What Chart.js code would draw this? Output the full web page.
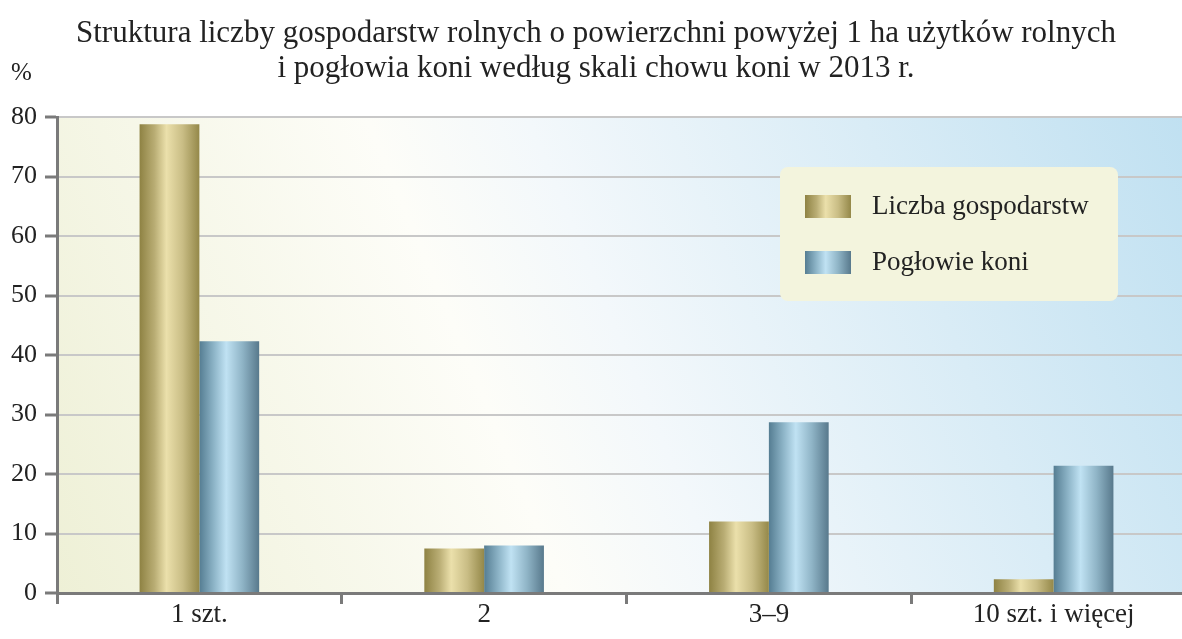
<!DOCTYPE html>
<html>
<head>
<meta charset="utf-8">
<script src="https://cdn.jsdelivr.net/npm/chart.js@4.4.0/dist/chart.umd.min.js"></script>
<style>
  html, body { margin: 0; padding: 0; background: #fff; overflow: hidden; }
  #wrap { position: relative; width: 1200px; height: 639px; }
</style>
</head>
<body>
<div id="wrap"><canvas id="chart" width="1200" height="639"></canvas></div>
<script>
// dane
const categories = ['1 szt.', '2', '3–9', '10 szt. i więcej'];
const gospodarstwa = [78.8, 7.5, 12.0, 2.3];
const poglowie = [42.3, 8.0, 28.7, 21.4];
const seriesNames = ['Liczba gospodarstw', 'Pogłowie koni'];
const titleLines = [
    'Struktura liczby gospodarstw rolnych o powierzchni powyżej 1 ha użytków rolnych',
    'i pogłowia koni według skali chowu koni w 2013 r.'
];
const yTicks = [0, 10, 20, 30, 40, 50, 60, 70, 80];

const FONT = '"Liberation Serif", "Times New Roman", serif';
const catPct = 0.42;

// kolory słupków (ciemny brzeg, jasny środek)
const palettes = [
    ['#8e8243', '#b9ad74', '#ebe0ab', '#c9bd85', '#948849'],
    ['#557d92', '#8fb6c9', '#c0e2f3', '#8fb4c6', '#58798c']
];

function barGradient(ctx, x0, w, pal) {
    const g = ctx.createLinearGradient(x0, 0, x0 + w, 0);
    g.addColorStop(0, pal[0]);
    g.addColorStop(0.25, pal[1]);
    g.addColorStop(0.45, pal[2]);
    g.addColorStop(0.72, pal[3]);
    g.addColorStop(1, pal[4]);
    return g;
}

function barColor(context) {
    const chart = context.chart;
    const xs = chart.scales.x;
    if (!xs || !chart.chartArea) return palettes[context.datasetIndex][2];
    const cw = xs.width / categories.length;
    const bw = cw * catPct / 2;
    const c = xs.getPixelForValue(context.dataIndex);
    const left = context.datasetIndex === 0 ? c - bw : c;
    return barGradient(chart.ctx, left, bw, palettes[context.datasetIndex]);
}

// tło obszaru wykresu
const bgPlugin = {
    id: 'bg',
    beforeDraw(chart) {
        const { ctx, chartArea: a } = chart;
        ctx.save();
        const g = ctx.createLinearGradient(a.left, a.bottom, a.right, a.top);
        g.addColorStop(0, '#eef0d6');
        g.addColorStop(0.38, '#fdfdf8');
        g.addColorStop(0.5, '#f3f8fb');
        g.addColorStop(1, '#bfe0f1');
        ctx.fillStyle = g;
        ctx.fillRect(a.left, a.top, a.right - a.left, a.bottom - a.top);
        ctx.restore();
    }
};

// tytuł, jednostka i legenda
const textPlugin = {
    id: 'texts',
    afterDraw(chart) {
        const ctx = chart.ctx;
        ctx.save();
        ctx.fillStyle = '#222';
        ctx.font = '31px ' + FONT;
        ctx.textAlign = 'center';
        ctx.textBaseline = 'alphabetic';
        ctx.fillText(titleLines[0], 596, 42);
        ctx.fillText(titleLines[1], 596, 77);
        ctx.textAlign = 'left';
        ctx.font = '25px ' + FONT;
        ctx.fillText('%', 11, 80);

        // legenda
        const lx = 780, ly = 167, lw = 338, lh = 134;
        ctx.fillStyle = '#f3f4dd';
        ctx.beginPath();
        ctx.roundRect(lx, ly, lw, lh, 8);
        ctx.fill();
        seriesNames.forEach((name, i) => {
            const sy = ly + 28 + i * 56;
            ctx.fillStyle = barGradient(ctx, lx + 25, 46, palettes[i]);
            ctx.fillRect(lx + 25, sy, 46, 23);
            ctx.fillStyle = '#222';
            ctx.font = '27px ' + FONT;
            ctx.textBaseline = 'middle';
            ctx.fillText(name, lx + 92, sy + 12);
        });
        ctx.restore();
    }
};

new Chart(document.getElementById('chart'), {
    type: 'bar',
    data: {
        labels: categories,
        datasets: [
            { label: seriesNames[0], data: gospodarstwa, backgroundColor: barColor,
              borderWidth: 0, categoryPercentage: catPct, barPercentage: 1 },
            { label: seriesNames[1], data: poglowie, backgroundColor: barColor,
              borderWidth: 0, categoryPercentage: catPct, barPercentage: 1 }
        ]
    },
    options: {
        responsive: false,
        animation: false,
        devicePixelRatio: 1,
        layout: { padding: { top: 117, right: 4, left: 0, bottom: 0 } },
        plugins: {
            legend: { display: false },
            title: { display: false },
            tooltip: { enabled: false }
        },
        scales: {
            x: {
                offset: true,
                grid: {
                    offset: true,
                    drawOnChartArea: false,
                    drawTicks: true,
                    tickLength: 11,
                    color: '#7a7a7a',
                    lineWidth: 3
                },
                border: { display: true, color: '#7a7a7a', width: 3 },
                ticks: {
                    color: '#222',
                    font: { family: FONT, size: 27 },
                    padding: -5,
                    maxRotation: 0
                },
                afterFit(axis) { axis.height = 46; }
            },
            y: {
                min: 0,
                max: 80,
                afterBuildTicks(axis) {
                    axis.ticks = yTicks.map(v => ({ value: v }));
                },
                afterFit(axis) { axis.width = 57; },
                grid: {
                    color: '#c8c8c8',
                    lineWidth: 2,
                    drawTicks: true,
                    tickLength: 12,
                    tickColor: '#7a7a7a',
                    tickWidth: 3
                },
                border: { display: true, color: '#7a7a7a', width: 3 },
                ticks: {
                    color: '#222',
                    font: { family: FONT, size: 26 },
                    padding: 8
                }
            }
        }
    },
    plugins: [bgPlugin, textPlugin]
});
</script>
</body>
</html>
